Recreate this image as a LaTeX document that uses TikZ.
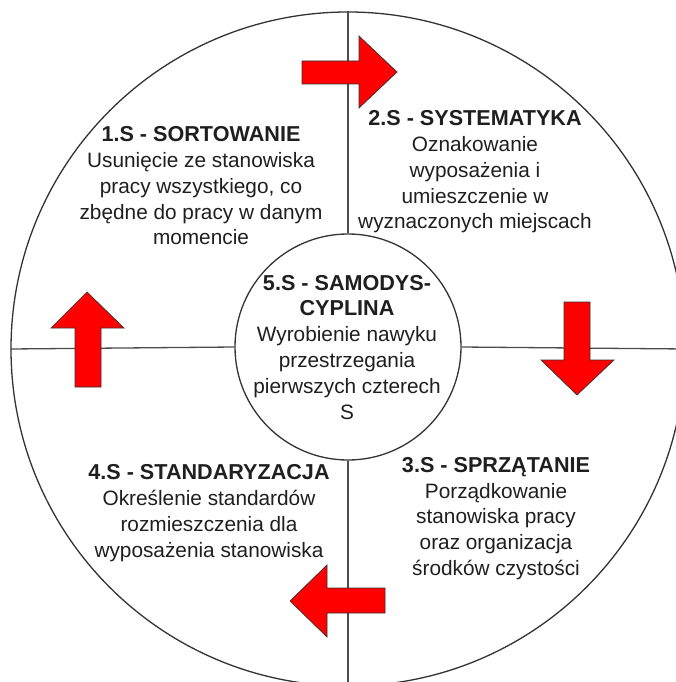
\documentclass[tikz,border=0pt]{standalone}
\usepackage{fontspec}
\setmainfont{Liberation Sans}
\newcommand\stitle[1]{{\fontsize{21.6}{25.8}\selectfont\bfseries #1}}
\begin{document}
\begin{tikzpicture}[x=1pt,y=-1pt,
  ring/.style={circle,draw=black!80,line width=1.3pt,inner sep=0pt},
  divider/.style={draw=black!70,line width=1.3pt},
  redarrow/.style={fill=red,draw=black!80,line width=0.7pt,line join=miter},
  label/.style={align=center,inner sep=0pt,anchor=base,text=black!88,
    font=\fontsize{20.8}{25.8}\selectfont}]
\useasboundingbox (0,0) rectangle (676,682);
\clip (0,0) rectangle (676,682);
\fill[white] (0,0) rectangle (676,682);
\node[ring,minimum size=674pt] (B) at (348,349) {};
\node[ring,minimum size=226pt,fill=white] (C) at (348,347) {};
\draw[divider] (B.north) -- (C.north);
\draw[divider] (C.south) -- (B.south);
\draw[divider] (B.west) -- (C.west);
\draw[divider] (C.east) -- (B.east);
% arrows
\draw[redarrow] (302,61) -- (359,61) -- (359,36) -- (397,72) -- (359,108) -- (359,84) -- (302,84) -- cycle;
\draw[redarrow] (564,302) -- (590,302) -- (590,360) -- (614,360) -- (577,395) -- (541,360) -- (564,360) -- cycle;
\draw[redarrow] (385,588) -- (385,613) -- (327,613) -- (327,637) -- (290,601) -- (327,565) -- (327,588) -- cycle;
\draw[redarrow] (75,387) -- (101,387) -- (101,328) -- (124,328) -- (87,292) -- (51,328) -- (75,328) -- cycle;
% texts (anchor = baseline of last line)
\node[label] (t1) at (201,244.9) {\stitle{1.S - SORTOWANIE}\\Usunięcie ze stanowiska\\pracy wszystkiego, co\\zbędne do pracy w danym\\momencie};
\node[label] (t2) at (475,228.9) {\stitle{2.S - SYSTEMATYKA}\\Oznakowanie\\wyposażenia i\\umieszczenie w\\wyznaczonych miejscach};
\node[label] (t5) at (347,419) {\stitle{5.S - SAMODYS-}\\\stitle{CYPLINA}\\Wyrobienie nawyku\\przestrzegania\\pierwszych czterech\\S};
\node[label] (t3) at (496,575.5) {\stitle{3.S - SPRZĄTANIE}\\Porządkowanie\\stanowiska pracy\\oraz organizacja\\środków czystości};
\node[label] (t4) at (209,557) {\stitle{4.S - STANDARYZACJA}\\Określenie standardów\\rozmieszczenia dla\\wyposażenia stanowiska};
\end{tikzpicture}
\end{document}
